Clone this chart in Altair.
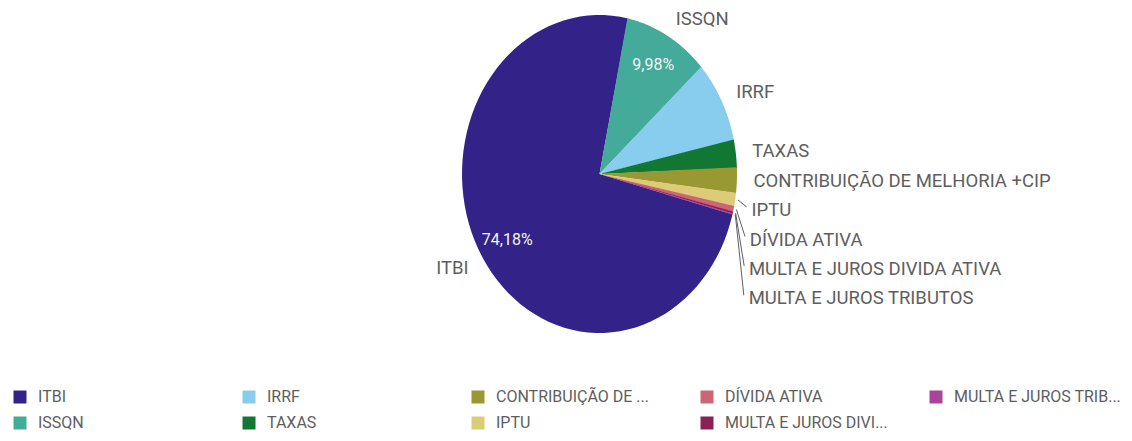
import math
import altair as alt
import pandas as pd

# ---------------- data ----------------
categories = ["ITBI", "ISSQN", "IRRF", "TAXAS", "CONTRIBUIÇÃO DE MELHORIA +CIP",
              "IPTU", "DÍVIDA ATIVA", "MULTA E JUROS DIVIDA ATIVA", "MULTA E JUROS TRIBUTOS"]
values = [74.18, 9.98, 8.30, 2.80, 2.55, 1.35, 0.55, 0.18, 0.11]
colors = ["#332288", "#44AA99", "#88CCEE", "#117733", "#999933",
          "#DDCC77", "#CC6677", "#882255", "#AA4499"]
legend_labels = ["ITBI", "ISSQN", "IRRF", "TAXAS", "CONTRIBUIÇÃO DE ...",
                 "IPTU", "DÍVIDA ATIVA", "MULTA E JUROS DIVI...", "MULTA E JUROS TRIB..."]
# clockwise drawing order, starting near 12 o'clock
slice_sequence = ["ISSQN", "IRRF", "TAXAS", "CONTRIBUIÇÃO DE MELHORIA +CIP", "IPTU",
                  "DÍVIDA ATIVA", "MULTA E JUROS DIVIDA ATIVA", "MULTA E JUROS TRIBUTOS", "ITBI"]
# legend order (row-major, 5 columns)
legend_order = ["ITBI", "IRRF", "CONTRIBUIÇÃO DE MELHORIA +CIP", "DÍVIDA ATIVA",
                "MULTA E JUROS TRIBUTOS", "ISSQN", "TAXAS", "IPTU", "MULTA E JUROS DIVIDA ATIVA"]

# ---------------- layout constants ----------------
FONT = "Roboto"
TEXT_COLOR = "#5e5e5e"
START_DEG = 11.7
R_LABEL = 1.12
GAP = 0.185
X_RANGE = [454, 729]
Y_RANGE = [325, 7]

col_of = dict(zip(categories, colors))
val_of = dict(zip(categories, values))
seq_of = {c: i for i, c in enumerate(slice_sequence)}

df = pd.DataFrame({
    "category": categories,
    "value": values,
    "seq": [seq_of[c] for c in categories],
})

# outer label placement (with downward push for crowded right-side labels)
total = sum(values)
rows = []
cum = 0.0
prev_y = None
for cat in slice_sequence:
    v = val_of[cat]
    mid = math.radians(START_DEG + 360.0 * (cum + v / 2.0) / total)
    cum += v
    nx, ny = R_LABEL * math.sin(mid), R_LABEL * math.cos(mid)
    ly = ny
    if nx > 0:
        if prev_y is not None and ly > prev_y - GAP:
            ly = prev_y - GAP
        prev_y = ly
    pushed = abs(ly - ny) > 0.03
    rows.append({
        "category": cat, "lx": nx, "ly": ly,
        "side": "right" if nx > 0 else "left",
        "pushed": pushed,
        "sx": 1.02 * math.sin(mid), "sy": 1.02 * math.cos(mid),
        "ex": nx - 0.035, "ey": ly + 0.02,
    })
lab = pd.DataFrame(rows)

xs = alt.Scale(domain=[-1, 1], range=X_RANGE)
ys = alt.Scale(domain=[-1, 1], range=Y_RANGE)

label_expr = " : ".join(
    f"datum.label == '{c}' ? '{l}'" for c, l in zip(categories, legend_labels)
) + " : datum.label"

color_enc = alt.Color(
    "category:N",
    scale=alt.Scale(domain=legend_order, range=[col_of[c] for c in legend_order]),
    legend=alt.Legend(
        title=None, orient="none", legendX=4, legendY=381, columns=5,
        direction="horizontal", symbolType="square", symbolSize=169,
        symbolStrokeWidth=0, labelFont=FONT, labelFontSize=16,
        labelColor=TEXT_COLOR, labelOffset=10, columnPadding=35, rowPadding=10,
        gridAlign="all", labelLimit=220, labelExpr=label_expr,
    ),
)

base = alt.Chart(df)

wedges = base.transform_window(
    cum="sum(value)", sort=[alt.SortField("seq")], frame=[None, 0]
).transform_joinaggregate(
    total="sum(value)"
).transform_calculate(
    a0=f"{START_DEG}*PI/180 + 2*PI*(datum.cum - datum.value)/datum.total",
    a1=f"{START_DEG}*PI/180 + 2*PI*datum.cum/datum.total + 0.004",
    k="sequence(-1, 81)",
).transform_flatten(["k"]).transform_calculate(
    t="datum.a0 + (datum.a1 - datum.a0) * max(datum.k, 0) / 80",
    px="datum.k < 0 ? 0 : sin(datum.t)",
    py="datum.k < 0 ? 0 : cos(datum.t)",
).mark_line(filled=True, interpolate="linear").encode(
    x=alt.X("px:Q", scale=xs, axis=None),
    y=alt.Y("py:Q", scale=ys, axis=None),
    color=color_enc,
    order=alt.Order("k:Q"),
    detail="category:N",
)

pct = base.transform_window(
    cum="sum(value)", sort=[alt.SortField("seq")], frame=[None, 0]
).transform_joinaggregate(
    total="sum(value)"
).transform_filter(
    "datum.value / datum.total > 0.09"
).transform_calculate(
    mid=f"{START_DEG}*PI/180 + 2*PI*(datum.cum - datum.value/2)/datum.total",
).transform_calculate(
    mx="0.79*sin(datum.mid)",
    my="0.79*cos(datum.mid)",
    txt="replace(format(datum.value/datum.total, '.2%'), '.', ',')",
).mark_text(font=FONT, fontSize=16, color="#f4f4f4", align="center", baseline="middle").encode(
    x=alt.X("mx:Q", scale=xs, axis=None),
    y=alt.Y("my:Q", scale=ys, axis=None),
    text="txt:N",
)

lbase = alt.Chart(lab)
right_labels = lbase.transform_filter("datum.side == 'right'").mark_text(
    font=FONT, fontSize=18.5, color=TEXT_COLOR, align="left", baseline="middle"
).encode(
    x=alt.X("lx:Q", scale=xs, axis=None),
    y=alt.Y("ly:Q", scale=ys, axis=None),
    text="category:N",
)
left_labels = lbase.transform_filter("datum.side == 'left'").mark_text(
    font=FONT, fontSize=18.5, color=TEXT_COLOR, align="right", baseline="middle"
).encode(
    x=alt.X("lx:Q", scale=xs, axis=None),
    y=alt.Y("ly:Q", scale=ys, axis=None),
    text="category:N",
)
leaders = lbase.transform_filter("datum.pushed").mark_rule(
    color=TEXT_COLOR, strokeWidth=1
).encode(
    x=alt.X("sx:Q", scale=xs, axis=None),
    y=alt.Y("sy:Q", scale=ys, axis=None),
    x2="ex:Q",
    y2="ey:Q",
)

chart = alt.layer(wedges, pct, leaders, right_labels, left_labels).properties(
    width=1116, height=425, autosize=alt.AutoSizeParams(type="none"), padding=0,
    view=alt.ViewBackground(strokeOpacity=0, strokeWidth=0),
).configure_view(strokeOpacity=0, strokeWidth=0).configure(background="white")

chart.save("out.html", embed_options={"renderer": "svg", "actions": False})
